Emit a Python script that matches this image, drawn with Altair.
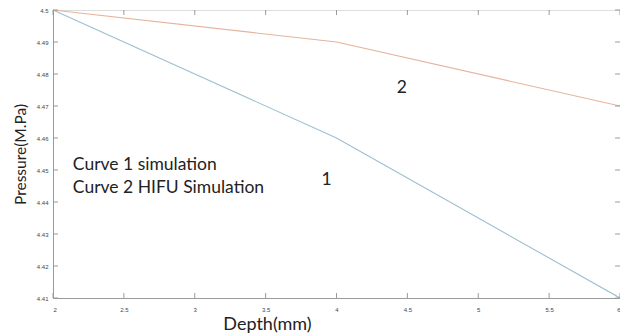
import altair as alt
import pandas as pd

depth = [2, 4, 6]
curve1 = [4.50, 4.46, 4.41]
curve2 = [4.50, 4.49, 4.47]
x_ticks = [2, 2.5, 3, 3.5, 4, 4.5, 5, 5.5, 6]
y_ticks = [4.41, 4.42, 4.43, 4.44, 4.45, 4.46, 4.47, 4.48, 4.49, 4.5]

legend_text = ["Curve 1 simulation", "Curve 2 HIFU Simulation"]
legend_x = [2.14, 2.14]
legend_y = [4.4515, 4.4443]
label_text = ["1", "2"]
label_x = [3.93, 4.46]
label_y = [4.4468, 4.4755]

W, H = 567, 288

df = pd.DataFrame({
    "depth": depth * 2,
    "pressure": curve1 + curve2,
    "curve": ["1"] * 3 + ["2"] * 3,
})
xt = pd.DataFrame({"depth": x_ticks})
yt = pd.DataFrame({"pressure": y_ticks})
leg = pd.DataFrame({"text": legend_text, "depth": legend_x, "pressure": legend_y})
lab = pd.DataFrame({"text": label_text, "depth": label_x, "pressure": label_y})

xscale = alt.Scale(domain=[2, 6], nice=False, zero=False)
yscale = alt.Scale(domain=[4.41, 4.5], nice=False, zero=False)

xaxis = alt.Axis(values=x_ticks, title="Depth(mm)", ticks=False, grid=False,
                 domainColor="#9a9a9a", labelFontSize=6, labelColor="#444",
                 labelPadding=8, labelFlush=True, labelOverlap=False, format="~g",
                 titleFontSize=18, titleFont="Lato", titleFontWeight="normal",
                 titleColor="#222", titleX=214, titleY=26, titleBaseline="middle",
                 titleAnchor="start", titleAlign="center")
yaxis = alt.Axis(values=y_ticks, title="Pressure(M.Pa)", ticks=False, grid=False,
                 domainColor="#9a9a9a", labelFontSize=6, labelColor="#444",
                 labelPadding=5, labelFlush=False, labelOverlap=False, format="~g",
                 titleFontSize=15.5, titleFont="Lato", titleFontWeight="normal",
                 titleColor="#222", titlePadding=8)

X = lambda: alt.X("depth:Q", scale=xscale, axis=xaxis)
Y = lambda: alt.Y("pressure:Q", scale=yscale, axis=yaxis)

lines = alt.Chart(df).mark_line(strokeWidth=1.1).encode(
    x=X(), y=Y(),
    color=alt.Color("curve:N", scale=alt.Scale(domain=["1", "2"], range=["#9dbfd1", "#e6b39c"]),
                    legend=None),
)

tick_style = dict(color="#9a9a9a", strokeWidth=1)
xb = alt.Chart(xt).mark_rule(**tick_style).encode(x=X(), y=alt.value(H), y2=alt.value(H - 5))
xtop = alt.Chart(xt).mark_rule(**tick_style).encode(x=X(), y=alt.value(0), y2=alt.value(5))
yl = alt.Chart(yt).mark_rule(**tick_style).encode(y=Y(), x=alt.value(0), x2=alt.value(5))
yr = alt.Chart(yt).mark_rule(**tick_style).encode(y=Y(), x=alt.value(W), x2=alt.value(W - 5))

legtext = alt.Chart(leg).mark_text(font="Lato", fontSize=17.5, color="#222", baseline="middle",
                                   align="left").encode(x=X(), y=Y(), text="text:N")
labtext = alt.Chart(lab).mark_text(font="Lato", fontSize=17.5, color="#222", baseline="middle",
                                   align="center").encode(x=X(), y=Y(), text="text:N")

chart = alt.layer(lines, xb, xtop, yl, yr, legtext, labtext).properties(
    width=W, height=H,
    autosize=alt.AutoSizeParams(type="none"),
    padding={"left": 45, "top": 2, "right": 0, "bottom": 36},
).configure_view(stroke="#9a9a9a", strokeWidth=1).configure(background="white")

chart.save("out.html", embed_options={"renderer": "svg", "actions": False})
